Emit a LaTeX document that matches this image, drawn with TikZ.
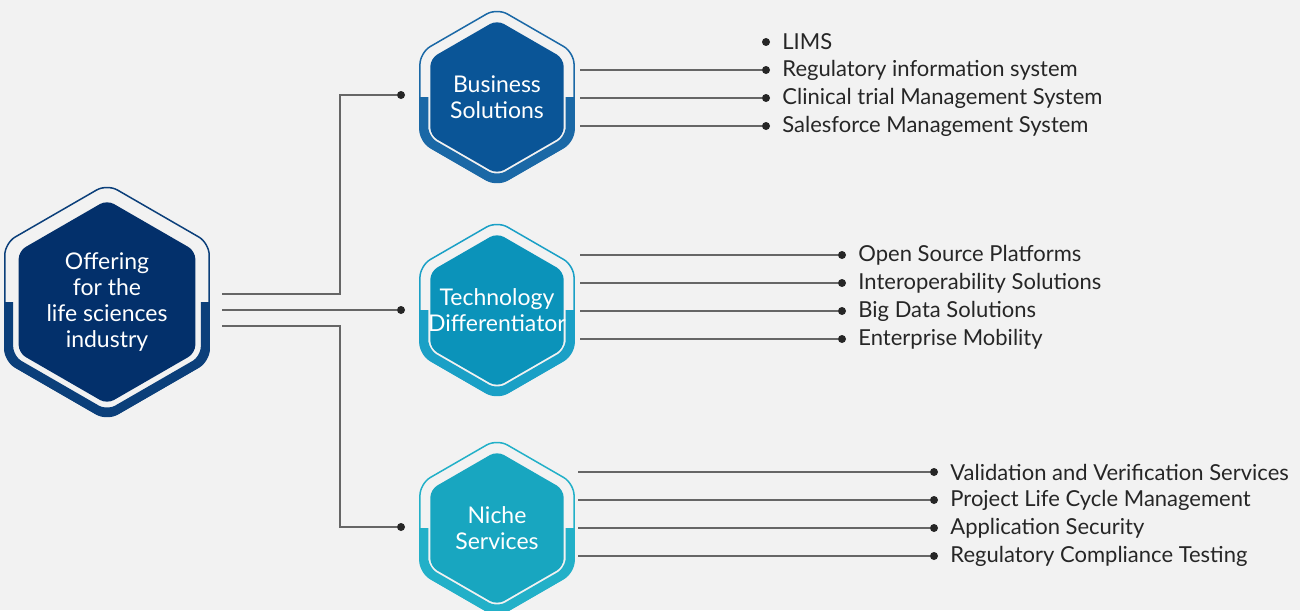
\documentclass[tikz,border=0pt]{standalone}
\usepackage{fontspec}
\setmainfont{Lato}
\usetikzlibrary{shapes.geometric,positioning,calc}

\definecolor{navy}{HTML}{03306B}
\definecolor{navyring}{HTML}{0B3F7A}
\definecolor{bizblue}{HTML}{0A5597}
\definecolor{bizring}{HTML}{1A68A6}
\definecolor{techblue}{HTML}{0B93BA}
\definecolor{techring}{HTML}{1AA0C6}
\definecolor{nicheblue}{HTML}{18A6C0}
\definecolor{nichering}{HTML}{22B0C8}
\definecolor{bg}{HTML}{F2F2F2}

% outer ring: thin on top, thick on the lower half
\newcommand{\hexring}[4]{%
  \node[ring, draw=#3, line width=1.5pt, minimum size=#2] (#4) at (#1) {};
  \begin{scope}
    \clip ($(#1)+(-150,0)$) rectangle ($(#1)+(150,150)$);
    \node[ring, draw=#3, line width=9pt, minimum size=#2-9pt] at (#1) {};
  \end{scope}}

\begin{document}
\begin{tikzpicture}[x=1pt,y=-1pt,
  hexa/.style={regular polygon, regular polygon sides=6, shape border rotate=30,
    inner sep=0pt, outer sep=0pt, rounded corners=8pt},
  ring/.style={regular polygon, regular polygon sides=6, shape border rotate=30,
    inner sep=0pt, outer sep=0pt, rounded corners=12pt},
  hextext/.style={text=white, align=center, font=\fontsize{23}{26}\selectfont},
  dot/.style={circle, fill=black!85, inner sep=0pt, minimum size=8pt},
  conn/.style={draw=black!60, line width=1.2pt},
  item/.style={anchor=west, font=\fontsize{22}{24}\selectfont, text=black!85, inner sep=0pt}]

\fill[bg] (0,0) rectangle (1300,610);
\useasboundingbox (0,0) rectangle (1300,610);

% hexagons
\hexring{107,302}{236pt}{navyring}{offerr}
\node[hexa, fill=navy, minimum size=204pt] (offer) at (107,302) {};
\node[hextext] at (offer) {Offering\\for the\\life sciences\\industry};
\hexring{497,97}{178pt}{bizring}{bizr}
\node[hexa, fill=bizblue, minimum size=154pt] (biz) at (497,97) {};
\node[hextext] at (biz) {Business\\Solutions};
\hexring{497,310}{178pt}{techring}{techr}
\node[hexa, fill=techblue, minimum size=154pt] (tech) at (497,310) {};
\node[hextext] at (tech) {Technology\\Differentiator};
\hexring{497,528}{178pt}{nichering}{nicher}
\node[hexa, fill=nicheblue, minimum size=154pt] (niche) at (497,528) {};
\node[hextext] at (niche) {Niche\\Services};

% main connectors
\node[dot] (in1) at (401,95) {};
\node[dot] (in2) at (401,310) {};
\node[dot] (in3) at (401,527) {};
\coordinate (o1) at (222,294);
\coordinate (o2) at (222,310);
\coordinate (o3) at (222,326);
\draw[conn] (o1) -| (340,95) -- (in1);
\draw[conn] (o2) -- (in2);
\draw[conn] (o3) -| (340,527) -- (in3);

% business items
\node[dot] (b0) at (766,42) {};
\node[dot] (b1) at (766,70) {};
\node[dot] (b2) at (766,98) {};
\node[dot] (b3) at (766,126) {};
\node[item, right=12pt of b0] {LIMS};
\node[item, right=12pt of b1] {Regulatory information system};
\node[item, right=12pt of b2] {Clinical trial Management System};
\node[item, right=12pt of b3] {Salesforce Management System};
\foreach \i in {1,2,3}
  \draw[conn] ([xshift=6pt]bizr.east |- b\i) -- (b\i);

% technology items
\node[dot] (t1) at (842,255) {};
\node[dot] (t2) at (842,283) {};
\node[dot] (t3) at (842,311) {};
\node[dot] (t4) at (842,339) {};
\node[item, right=12pt of t1] {Open Source Platforms};
\node[item, right=12pt of t2] {Interoperability Solutions};
\node[item, right=12pt of t3] {Big Data Solutions};
\node[item, right=12pt of t4] {Enterprise Mobility};
\foreach \i in {1,...,4}
  \draw[conn] ([xshift=6pt]techr.east |- t\i) -- (t\i);

% niche items
\node[dot] (n1) at (934,472) {};
\node[dot] (n2) at (934,500) {};
\node[dot] (n3) at (934,528) {};
\node[dot] (n4) at (934,556) {};
\node[item, right=12pt of n1] {Validation and Verification Services};
\node[item, right=12pt of n2] {Project Life Cycle Management};
\node[item, right=12pt of n3] {Application Security};
\node[item, right=12pt of n4] {Regulatory Compliance Testing};
\foreach \i in {1,...,4}
  \draw[conn] ([xshift=4pt]nicher.east |- n\i) -- (n\i);
\end{tikzpicture}
\end{document}
